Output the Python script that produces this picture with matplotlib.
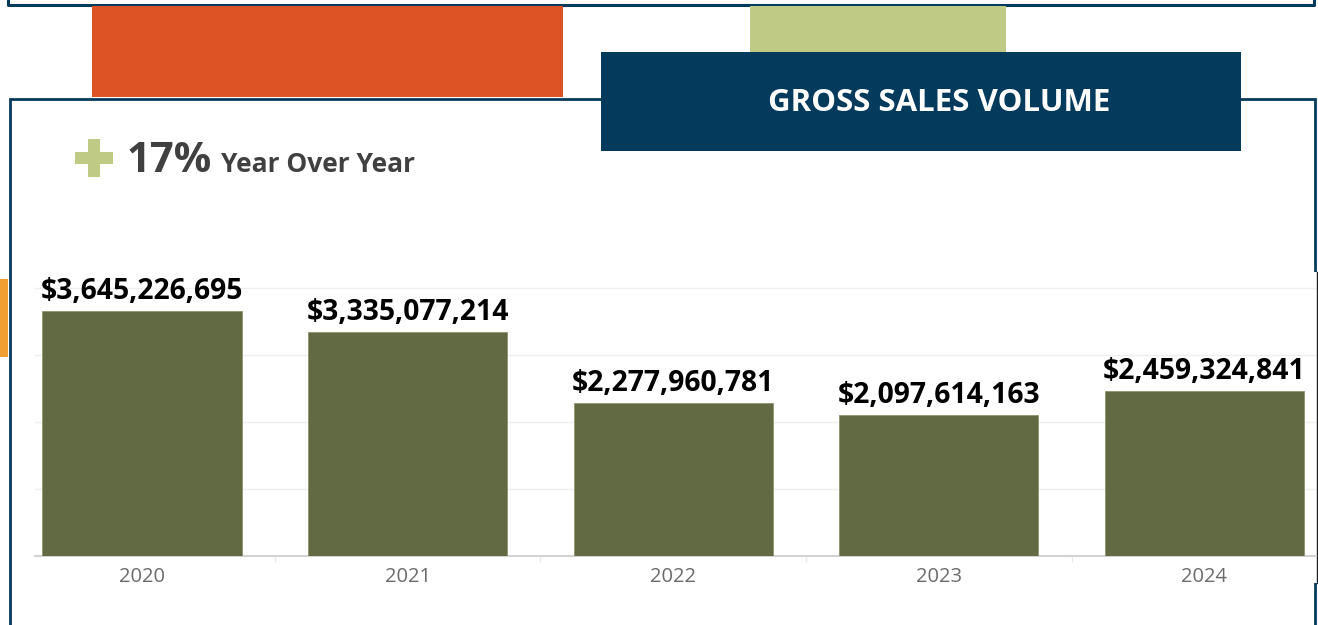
import matplotlib
matplotlib.use("Agg")
import matplotlib.pyplot as plt
from matplotlib.patches import Rectangle
from matplotlib.lines import Line2D

# data
years = ["2020", "2021", "2022", "2023", "2024"]
sales = [3645226695, 3335077214, 2277960781, 2097614163, 2459324841]
yoy_text = "17%"

W, H = 1318, 625
navy = "#043a5c"
bar_color = "#626a43"
orange = "#dd5326"
light_green = "#bfcb84"
dark_text = "#404040"

fig = plt.figure(figsize=(W / 100, H / 100), dpi=100)


def px_rect(x0, y0, x1, y1, **kw):
    # rectangle given in pixel coords (origin top-left)
    r = Rectangle((x0 / W, 1 - y1 / H), (x1 - x0) / W, (y1 - y0) / H,
                  transform=fig.transFigure, **kw)
    fig.add_artist(r)
    return r


def px_line(xs, ys, **kw):
    fig.add_artist(Line2D([x / W for x in xs], [1 - y / H for y in ys],
                          transform=fig.transFigure, **kw))


def px_text(x, y, s, **kw):
    fig.text(x / W, 1 - y / H, s, **kw)


# decorative blocks behind the panel
px_line([7.5, 7.5, 1314, 1314], [-2, 4.5, 4.5, -2], color=navy, lw=2.2, zorder=0)
px_rect(92, 6, 563, 97, facecolor=orange, edgecolor="none", zorder=0)
px_rect(750, 6, 1006, 52, facecolor=light_green, edgecolor="none", zorder=0)
px_rect(0, 279, 8, 357, facecolor="#f0a030", edgecolor="none", zorder=0)

# main panel border, partly hidden behind the pasted chart on the right
px_rect(10, 98.5, 1315, 640, facecolor="white", edgecolor=navy, lw=2, zorder=0.2)
px_rect(1300, 272, 1318, 583, facecolor="white", edgecolor="none", zorder=0.4)
px_line([1317.3, 1317.3], [272, 583], color="#222222", lw=1, zorder=0.5)

# title box
px_rect(601, 52, 1241, 151, facecolor=navy, edgecolor="none", zorder=4)
px_text(939, 103, "GROSS SALES VOLUME", color="white", fontsize=22.5,
        fontweight="bold", family="Open Sans", ha="center", va="center", zorder=5)

# plus sign + yoy text
px_rect(88, 139, 100, 177, facecolor=light_green, edgecolor="none")
px_rect(75, 152, 113, 164, facecolor=light_green, edgecolor="none")
px_text(127, 172, yoy_text, color=dark_text, fontsize=30, fontweight="bold",
        family="Open Sans", ha="left", va="baseline")
px_text(221, 172, "Year Over Year", color=dark_text, fontsize=19,
        fontweight="bold", family="Open Sans", ha="left", va="baseline")

# bar chart
ax_l, ax_r, ax_t, ax_b = 35, 1316, 270, 555.5
ax = fig.add_axes([ax_l / W, 1 - ax_b / H, (ax_r - ax_l) / W, (ax_b - ax_t) / H],
                  zorder=1)
ax.patch.set_alpha(0)
step = 265.6
ax.set_xlim((ax_l - 142) / step, (ax_r - 142) / step)
ax.set_ylim(0, (ax_b - ax_t) / 67 * 1e9)

x = list(range(len(years)))
ax.bar(x, sales, width=0.75, color=bar_color, edgecolor="#8d9470",
       linewidth=0.6, zorder=3)

for xi, v in zip(x, sales):
    ax.annotate(f"${v:,}", (xi, v), xytext=(0, 8.6), textcoords="offset points",
                ha="center", va="baseline", fontsize=20.3, fontweight="bold",
                family="Open Sans", color="black", zorder=4)

ax.set_yticks([1e9, 2e9, 3e9, 4e9])
ax.yaxis.grid(True, color="#efefef", lw=1)
ax.set_axisbelow(True)
ax.tick_params(axis="y", left=False, labelleft=False)
ax.set_xticks(x)
ax.set_xticklabels(years, family="Open Sans", fontsize=14.5, color="#6b6b6b")
ax.tick_params(axis="x", length=0, pad=8)
ax.set_xticks([i + 0.5 for i in range(len(years) - 1)], minor=True)
ax.tick_params(axis="x", which="minor", length=4, color="#e8e8e8", width=1)

for side in ["top", "right", "left"]:
    ax.spines[side].set_visible(False)
ax.spines["bottom"].set_color("#d3d3d3")
ax.spines["bottom"].set_linewidth(1.5)

fig.savefig("out.png", dpi=100)
